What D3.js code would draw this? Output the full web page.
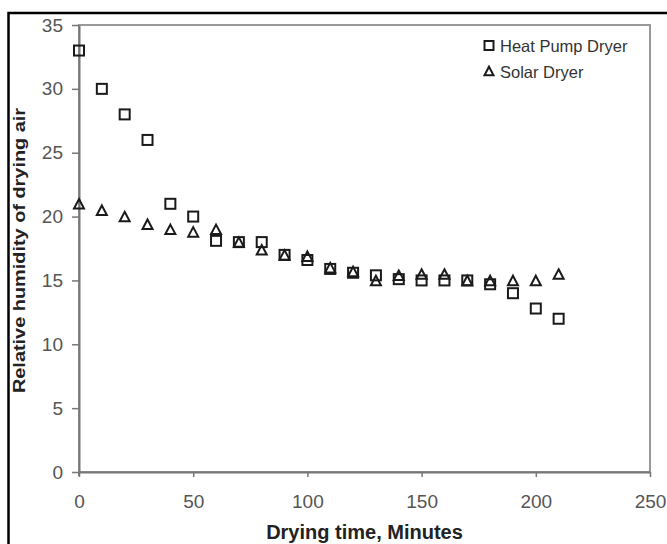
<!DOCTYPE html>
<html>
<head>
<meta charset="utf-8">
<script src="https://cdn.jsdelivr.net/npm/d3@7"></script>
<style>
  body { margin: 0; background: #fff; }
  svg { display: block; }
</style>
</head>
<body>
<svg id="chart" width="667" height="544"></svg>
<script>
// drying time (minutes)
var times = [0, 10, 20, 30, 40, 50, 60, 70, 80, 90, 100, 110, 120, 130, 140, 150, 160, 170, 180, 190, 200, 210];
// relative humidity of drying air
var heatPump = [33, 30, 28, 26, 21, 20, 18.1, 18, 18, 17, 16.6, 15.9, 15.6, 15.4, 15.1, 15, 15, 15, 14.7, 14, 12.8, 12];
var solar = [21, 20.5, 20, 19.4, 19, 18.8, 19, 18, 17.4, 17, 16.9, 16, 15.7, 15, 15.4, 15.5, 15.5, 15, 15, 15, 15, 15.5];
var xTicks = [0, 50, 100, 150, 200, 250];
var yTicks = [0, 5, 10, 15, 20, 25, 30, 35];
var seriesNames = ["Heat Pump Dryer", "Solar Dryer"];

var margin = {top: 25, right: 17, bottom: 72, left: 79},
    width = 667 - margin.left - margin.right,
    height = 544 - margin.top - margin.bottom;

var font = "'Liberation Sans', Arial, sans-serif";

var svg = d3.select("#chart");

// outer border of the figure (only left and top edges fall inside the picture)
svg.append("rect")
  .attr("x", 8.5)
  .attr("y", 13)
  .attr("width", 700)
  .attr("height", 600)
  .attr("fill", "none")
  .attr("stroke", "#000")
  .attr("stroke-width", 2.5);

var g = svg.append("g")
  .attr("transform", "translate(" + margin.left + "," + margin.top + ")");

var x = d3.scaleLinear().domain([0, 250]).range([0, width]);
var y = d3.scaleLinear().domain([0, 35]).range([height, 0]);

// plot frame
g.append("rect")
  .attr("x", 0)
  .attr("y", 0)
  .attr("width", width)
  .attr("height", height)
  .attr("fill", "none")
  .attr("stroke", "#999")
  .attr("stroke-width", 2);

var xAxis = g.append("g")
  .attr("transform", "translate(0," + height + ")")
  .call(d3.axisBottom(x).tickValues(xTicks).tickSize(5).tickSizeOuter(0).tickPadding(18));

var yAxis = g.append("g")
  .call(d3.axisLeft(y).tickValues(yTicks).tickSize(7).tickSizeOuter(0).tickPadding(9));

// y axis runs a little past the x axis
g.append("line")
  .attr("x1", 0).attr("x2", 0)
  .attr("y1", height).attr("y2", height + 4)
  .attr("stroke", "#777")
  .attr("stroke-width", 2);

[xAxis, yAxis].forEach(function(a){
  a.select(".domain").attr("stroke", "#777").attr("stroke-width", 2);
  a.selectAll(".tick line").attr("stroke", "#777").attr("stroke-width", 1.5);
  a.selectAll("text")
    .attr("fill", "#555")
    .style("font-family", font)
    .style("font-size", "19px");
});

// axis titles
svg.append("text")
  .attr("x", margin.left + width / 2)
  .attr("y", 539)
  .attr("text-anchor", "middle")
  .style("font-family", font)
  .style("font-size", "20px")
  .style("font-weight", "bold")
  .attr("fill", "#222")
  .text("Drying time, Minutes");

svg.append("text")
  .attr("transform", "translate(25," + (margin.top + height / 2 + 2) + ") rotate(-90) scale(1.17,1)")
  .attr("text-anchor", "middle")
  .style("font-family", font)
  .style("font-size", "17px")
  .style("font-weight", "bold")
  .attr("fill", "#222")
  .text("Relative humidity of drying air");

function trianglePath(cx, cy, s) {
  var h = s * 0.95;
  return "M" + cx + "," + (cy - h / 2) +
         "L" + (cx + s / 2) + "," + (cy + h / 2) +
         "L" + (cx - s / 2) + "," + (cy + h / 2) + "Z";
}

var heatData = times.map(function(t, i){ return {t: t, v: heatPump[i]}; });
var solarData = times.map(function(t, i){ return {t: t, v: solar[i]}; });

g.selectAll(".sq")
  .data(heatData)
  .enter()
  .append("rect")
  .attr("class", "sq")
  .attr("x", function(d){ return x(d.t) - 5; })
  .attr("y", function(d){ return y(d.v) - 5; })
  .attr("width", 10)
  .attr("height", 10)
  .attr("fill", "none")
  .attr("stroke", "#1a1a1a")
  .attr("stroke-width", 2);

g.selectAll(".tri")
  .data(solarData)
  .enter()
  .append("path")
  .attr("class", "tri")
  .attr("d", function(d){ return trianglePath(x(d.t), y(d.v), 10); })
  .attr("fill", "none")
  .attr("stroke", "#1a1a1a")
  .attr("stroke-width", 2);

// legend
var legend = svg.append("g");
legend.append("rect")
  .attr("x", 484.5)
  .attr("y", 41)
  .attr("width", 9)
  .attr("height", 9)
  .attr("fill", "none")
  .attr("stroke", "#1a1a1a")
  .attr("stroke-width", 2);
legend.append("path")
  .attr("d", trianglePath(489, 71, 9))
  .attr("fill", "none")
  .attr("stroke", "#1a1a1a")
  .attr("stroke-width", 2);
legend.selectAll(".ltext")
  .data(seriesNames)
  .enter()
  .append("text")
  .attr("x", 500)
  .attr("y", function(d, i){ return 51.5 + i * 26; })
  .style("font-family", font)
  .style("font-size", "16.5px")
  .attr("fill", "#333")
  .text(function(d){ return d; });
</script>
</body>
</html>
